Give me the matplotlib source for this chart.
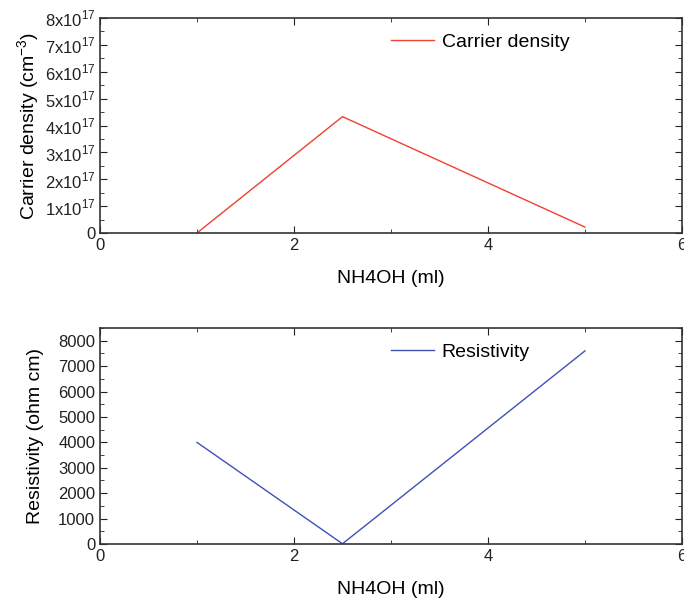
import numpy as np
import matplotlib.pyplot as plt
from matplotlib.ticker import MultipleLocator, FuncFormatter

plt.rcParams['font.family'] = ['Liberation Sans', 'DejaVu Sans']
plt.rcParams['mathtext.fontset'] = 'custom'
plt.rcParams['mathtext.rm'] = 'Liberation Sans'

# Data:
nh4oh_ml = [1, 2.5, 5]
carrier_density = [0.0, 4.33e17, 0.22e17]
resistivity = [4000, 10, 7600]

red = '#f0402f'
blue = '#3f51b5'


def sci_label(v, pos):
    if v == 0:
        return '0'
    return f'{v / 1e17:.0f}x10$^{{17}}$'


def style_axes(ax):
    ax.tick_params(which='both', direction='in', top=True, right=True,
                   labelsize=12, colors='#222222')
    ax.tick_params(which='major', length=5)
    ax.tick_params(which='minor', length=3)
    ax.set_xlim(0, 6)
    ax.xaxis.set_major_locator(MultipleLocator(2))
    ax.xaxis.set_minor_locator(MultipleLocator(1))
    for sp in ax.spines.values():
        sp.set_color('#333333')
        sp.set_linewidth(1.2)
    ax.set_xlabel('NH4OH (ml)', fontsize=14, labelpad=12)


fig = plt.figure(figsize=(6.84, 6.02), dpi=100)
ax_1 = fig.add_axes([0.1462, 0.613, 0.8508, 0.357])
ax_2 = fig.add_axes([0.1462, 0.0963, 0.8508, 0.3588])

# Carrier density:
ax_1.plot(nh4oh_ml, carrier_density, color=red, lw=1, label='Carrier density')
ax_1.set_ylim(0, 8e17)
ax_1.yaxis.set_major_locator(MultipleLocator(1e17))
ax_1.yaxis.set_minor_locator(MultipleLocator(0.5e17))
ax_1.yaxis.set_major_formatter(FuncFormatter(sci_label))
ax_1.set_ylabel('Carrier density (cm$^{-3}$)', fontsize=14, labelpad=2)
style_axes(ax_1)
ax_1.legend(loc='upper left', bbox_to_anchor=(0.47, 1.01), frameon=False,
            fontsize=14, handlelength=2.2, handletextpad=0.4)

# Resistivity:
ax_2.plot(nh4oh_ml, resistivity, color=blue, lw=1, label='Resistivity')
ax_2.set_ylim(0, 8500)
ax_2.yaxis.set_major_locator(MultipleLocator(1000))
ax_2.yaxis.set_minor_locator(MultipleLocator(500))
ax_2.set_ylabel('Resistivity (ohm cm)', fontsize=14, labelpad=10)
style_axes(ax_2)
ax_2.legend(loc='upper left', bbox_to_anchor=(0.47, 1.01), frameon=False,
            fontsize=14, handlelength=2.2, handletextpad=0.4)

fig.savefig('out.png', dpi=100)
